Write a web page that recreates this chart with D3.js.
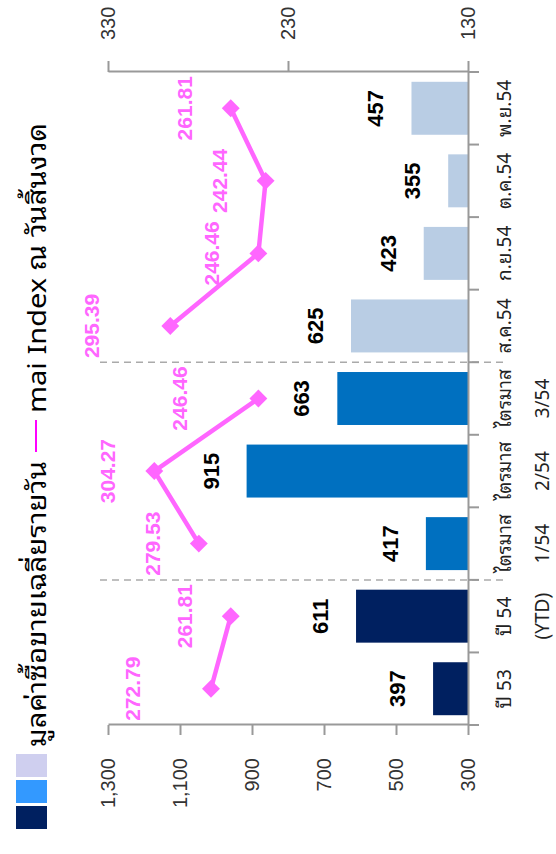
<!DOCTYPE html>
<html>
<head>
<meta charset="utf-8">
<script src="https://cdn.jsdelivr.net/npm/d3@7"></script>
<style>
  body { margin: 0; background: #fff; }
  text { font-family: Tahoma, "Noto Sans Thai Looped", Loma, Garuda, "Noto Sans Thai", "Noto Sans", "DejaVu Sans", sans-serif; }
</style>
</head>
<body>
<div id="chart"></div>
<script>
// chart data
var categories = ["ปี 53", "ปี 54", "ไตรมาส 1/54", "ไตรมาส 2/54", "ไตรมาส 3/54", "ส.ค.54", "ก.ย.54", "ต.ค.54", "พ.ย.54"];
var categoryLines = [["ปี 53"], ["ปี 54", "(YTD)"], ["ไตรมาส", "1/54"], ["ไตรมาส", "2/54"], ["ไตรมาส", "3/54"], ["ส.ค.54"], ["ก.ย.54"], ["ต.ค.54"], ["พ.ย.54"]];
var periodType = ["year", "year", "quarter", "quarter", "quarter", "month", "month", "month", "month"];
var tradeValue = [397, 611, 417, 915, 663, 625, 423, 355, 457];
var maiIndex = [272.79, 261.81, 279.53, 304.27, 246.46, 295.39, 246.46, 242.44, 261.81];
var leftTicks = [300, 500, 700, 900, 1100, 1300];
var rightTicks = [130, 230, 330];
var legendBar = "มูลค่าซื้อขายเฉลี่ยรายวัน";
var legendLine = "mai Index ณ วันสิ้นงวด";

// the chart is drawn upright, then turned a quarter turn to the left
var W = 854, H = 556;
var barColor = { year: "#002060", quarter: "#0070C0", month: "#B9CDE4" };
var pink = "#FF66FF";
// which index labels sit higher than the others
var raised = [true, false, false, false, true, true, false, false, false];

var svg = d3.select("#chart")
    .append("svg")
    .attr("width", H)
    .attr("height", W);

var g = svg.append("g")
    .attr("transform", "translate(0," + W + ") rotate(-90)");

var rows = categories.map(function (c, i) {
    return { cat: c, lines: categoryLines[i], type: periodType[i], value: tradeValue[i], index: maiIndex[i], raised: raised[i] };
});

//scales
var x = d3.scaleBand()
    .domain(categories)
    .range([129, 782])
    .paddingInner(0.27)
    .paddingOuter(0.135);
var step = x.step();
var yL = d3.scaleLinear().domain([300, 1300]).range([468, 108]);
var yR = d3.scaleLinear().domain([130, 330]).range([468, 108]);

//bars
g.selectAll(".bar")
    .data(rows)
    .enter()
    .append("rect")
    .attr("class", "bar")
    .attr("x", function (d) { return x(d.cat); })
    .attr("width", x.bandwidth())
    .attr("y", function (d) { return yL(d.value); })
    .attr("height", function (d) { return yL(300) - yL(d.value); })
    .attr("fill", function (d) { return barColor[d.type]; });

//bar value labels
g.selectAll(".bar-label")
    .data(rows)
    .enter()
    .append("text")
    .attr("class", "bar-label")
    .attr("x", function (d) { return x(d.cat) + x.bandwidth() / 2; })
    .attr("y", function (d) { return yL(d.value) - 28; })
    .attr("text-anchor", "middle")
    .attr("font-size", 22)
    .attr("font-weight", "bold")
    .attr("fill", "#000")
    .style("font-family", "Arial, 'Liberation Sans', sans-serif")
    .text(function (d) { return d3.format(",")(d.value); });

//dashed separators between years / quarters / months
var splits = [2, 5];
g.selectAll(".split")
    .data(splits)
    .enter()
    .append("line")
    .attr("x1", function (i) { return x.range()[0] + i * step; })
    .attr("x2", function (i) { return x.range()[0] + i * step; })
    .attr("y1", 100)
    .attr("y2", 508)
    .attr("stroke", "#aaa")
    .attr("stroke-width", 1.5)
    .attr("stroke-dasharray", "7,5");

//axes
var axisColor = "#999";
var leftAxis = g.append("g")
    .attr("transform", "translate(129,0)")
    .call(d3.axisLeft(yL).tickValues(leftTicks).tickSize(10).tickSizeOuter(0).tickPadding(23).tickFormat(d3.format(",")));
var rightAxis = g.append("g")
    .attr("transform", "translate(782,0)")
    .call(d3.axisRight(yR).tickValues(rightTicks).tickSize(11).tickSizeOuter(0).tickPadding(21));
[leftAxis, rightAxis].forEach(function (a) {
    a.selectAll("path, line").attr("stroke", axisColor).attr("stroke-width", 2);
    a.selectAll("text").attr("font-size", 20).attr("fill", "#333").style("font-family", "Arial, 'Liberation Sans', sans-serif");
});

var bottomAxis = g.append("g")
    .attr("transform", "translate(0,468)")
    .call(d3.axisBottom(x).tickSize(0).tickPadding(0));
bottomAxis.select(".domain").attr("stroke", axisColor).attr("stroke-width", 2);
bottomAxis.selectAll(".tick text").remove();
bottomAxis.selectAll(".tick")
    .append("text")
    .attr("text-anchor", "middle")
    .attr("fill", "#222")
    .attr("font-size", 19)
    .selectAll("tspan")
    .data(function (c) { return categoryLines[categories.indexOf(c)]; })
    .enter()
    .append("tspan")
    .attr("x", 0)
    .attr("y", function (t, i) { return 43 + i * 38; })
    .text(function (t) { return t; });

//boundary ticks on the category axis
g.selectAll(".cat-tick")
    .data(d3.range(categories.length + 1))
    .enter()
    .append("line")
    .attr("x1", function (i) { return x.range()[0] + i * step; })
    .attr("x2", function (i) { return x.range()[0] + i * step; })
    .attr("y1", 468)
    .attr("y2", 479)
    .attr("stroke", axisColor)
    .attr("stroke-width", 2);

//index line, one piece per period group
var line = d3.line()
    .x(function (d) { return x(d.cat) + x.bandwidth() / 2; })
    .y(function (d) { return yR(d.index); });
var groups = d3.groups(rows, function (d) { return d.type; });
g.selectAll(".idx-line")
    .data(groups)
    .enter()
    .append("path")
    .attr("class", "idx-line")
    .attr("d", function (grp) { return line(grp[1]); })
    .attr("fill", "none")
    .attr("stroke", pink)
    .attr("stroke-width", 4.5);

g.selectAll(".idx-point")
    .data(rows)
    .enter()
    .append("path")
    .attr("class", "idx-point")
    .attr("d", d3.symbol(d3.symbolSquare, 160))
    .attr("transform", function (d) {
        return "translate(" + (x(d.cat) + x.bandwidth() / 2) + "," + yR(d.index) + ") rotate(45)";
    })
    .attr("fill", pink);

g.selectAll(".idx-label")
    .data(rows)
    .enter()
    .append("text")
    .attr("class", "idx-label")
    .attr("x", function (d) { return x(d.cat) + x.bandwidth() / 2; })
    .attr("y", function (d) { return yR(d.index) - (d.raised ? 78 : 46) + 7; })
    .attr("text-anchor", "middle")
    .attr("font-size", 21)
    .attr("font-weight", "bold")
    .attr("fill", pink)
    .style("font-family", "Arial, 'Liberation Sans', sans-serif")
    .text(function (d) { return d.index.toFixed(2); });

//legend
var legendColors = ["#002060", "#3399FF", "#CFCFEF"];
g.selectAll(".legend-box")
    .data(legendColors)
    .enter()
    .append("rect")
    .attr("x", function (c, i) { return 25 + i * 26; })
    .attr("y", 16)
    .attr("width", 23)
    .attr("height", 31)
    .attr("fill", function (c) { return c; });

g.append("text")
    .attr("x", 107)
    .attr("y", 46)
    .attr("font-size", 26)
    .attr("fill", "#000")
    .attr("textLength", 286)
    .attr("lengthAdjust", "spacingAndGlyphs")
    .text(legendBar);
g.append("line")
    .attr("x1", 402).attr("x2", 434)
    .attr("y1", 36).attr("y2", 36)
    .attr("stroke", "#FF00FF")
    .attr("stroke-width", 2);
g.append("text")
    .attr("x", 441)
    .attr("y", 46)
    .attr("font-size", 26)
    .attr("fill", "#000")
    .attr("textLength", 290)
    .attr("lengthAdjust", "spacingAndGlyphs")
    .text(legendLine);
</script>
</body>
</html>
